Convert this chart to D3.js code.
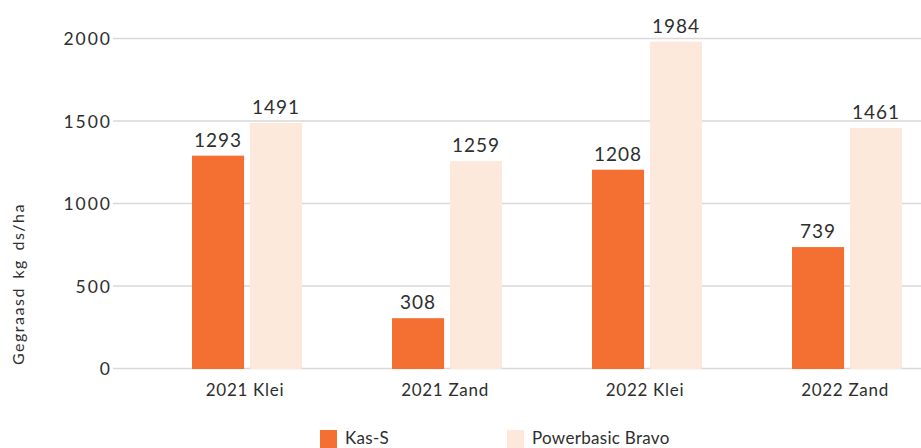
<!DOCTYPE html>
<html>
<head>
<meta charset="utf-8">
<script src="https://cdn.jsdelivr.net/npm/d3@7"></script>
<style>
  body { margin: 0; background: #fff; }
  text { font-family: "Lato", "Open Sans", sans-serif; fill: #2e2e2e; }
  .grid line { stroke: #d9d9d9; stroke-width: 1.5; }
</style>
</head>
<body>
<svg id="chart" width="921" height="448"></svg>
<script>
var categories = ["2021 Klei", "2021 Zand", "2022 Klei", "2022 Zand"];
var series = ["Kas-S", "Powerbasic Bravo"];
var kasS = [1293, 308, 1208, 739];
var powerbasic = [1491, 1259, 1984, 1461];
var yTicks = [0, 500, 1000, 1500, 2000];
var colors = ["#f37032", "#fde8dc"];

var Config = {
  GridLeft: 113,
  GridRight: 921,
  PlotTop: 39,
  PlotBottom: 369,
  BandStart: 147,
  BandEnd: 947,
};

var svg = d3.select("#chart");

var x = d3.scaleBand()
  .domain(categories)
  .range([Config.BandStart, Config.BandEnd])
  .paddingInner(0.45)
  .paddingOuter(0.225);

var xSub = d3.scaleBand()
  .domain(series)
  .range([0, x.bandwidth()])
  .paddingInner(0.1);

var y = d3.scaleLinear()
  .domain([0, 2000])
  .range([Config.PlotBottom, Config.PlotTop]);

// gridlines
svg.append("g")
  .attr("class", "grid")
  .selectAll("line")
  .data(yTicks)
  .enter()
  .append("line")
  .attr("x1", Config.GridLeft)
  .attr("x2", Config.GridRight)
  .attr("y1", function (d) { return y(d) - 0.5; })
  .attr("y2", function (d) { return y(d) - 0.5; });

// y tick labels
svg.selectAll(".ytick")
  .data(yTicks)
  .enter()
  .append("text")
  .attr("class", "ytick")
  .attr("x", 112)
  .attr("y", function (d) { return y(d) + 6; })
  .attr("text-anchor", "end")
  .style("font-size", "17.5px")
  .style("letter-spacing", "2px")
  .text(function (d) { return d; });

// y axis title
svg.append("text")
  .attr("transform", "translate(24,284) rotate(-90)")
  .attr("text-anchor", "middle")
  .style("font-size", "16px")
  .style("letter-spacing", "1.5px")
  .style("word-spacing", "3px")
  .text("Gegraasd kg ds/ha");

var rows = categories.map(function (c, i) {
  return { cat: c, values: [kasS[i], powerbasic[i]] };
});

var groups = svg.selectAll(".group")
  .data(rows)
  .enter()
  .append("g")
  .attr("class", "group")
  .attr("transform", function (d) { return "translate(" + x(d.cat) + ",0)"; });

groups.selectAll("rect")
  .data(function (d) { return d.values.map(function (v, j) { return { s: series[j], v: v, j: j }; }); })
  .enter()
  .append("rect")
  .attr("x", function (d) { return xSub(d.s); })
  .attr("y", function (d) { return y(d.v); })
  .attr("width", xSub.bandwidth())
  .attr("height", function (d) { return y(0) - y(d.v); })
  .attr("fill", function (d) { return colors[d.j]; });

groups.selectAll(".val")
  .data(function (d) { return d.values.map(function (v, j) { return { s: series[j], v: v }; }); })
  .enter()
  .append("text")
  .attr("class", "val")
  .attr("x", function (d) { return xSub(d.s) + xSub.bandwidth() / 2; })
  .attr("y", function (d) { return y(d.v) - 9; })
  .attr("text-anchor", "middle")
  .style("font-size", "19px")
  .style("letter-spacing", "1px")
  .text(function (d) { return d.v; });

// x labels
svg.selectAll(".xlab")
  .data(categories)
  .enter()
  .append("text")
  .attr("class", "xlab")
  .attr("x", function (d) { return x(d) + x.bandwidth() / 2 - 2; })
  .attr("y", 396)
  .attr("text-anchor", "middle")
  .style("font-size", "17px")
  .style("letter-spacing", "0.7px")
  .text(function (d) { return d; });

// legend
var legendX = [320, 507];
var legend = svg.selectAll(".legend")
  .data(series)
  .enter()
  .append("g")
  .attr("class", "legend")
  .attr("transform", function (d, i) { return "translate(" + legendX[i] + ",430)"; });

legend.append("rect")
  .attr("width", 17)
  .attr("height", 18)
  .attr("fill", function (d, i) { return colors[i]; });

legend.append("text")
  .attr("x", 25)
  .attr("y", 13.5)
  .style("font-size", "17px")
  .style("letter-spacing", "0.3px")
  .text(function (d) { return d; });
</script>
</body>
</html>
